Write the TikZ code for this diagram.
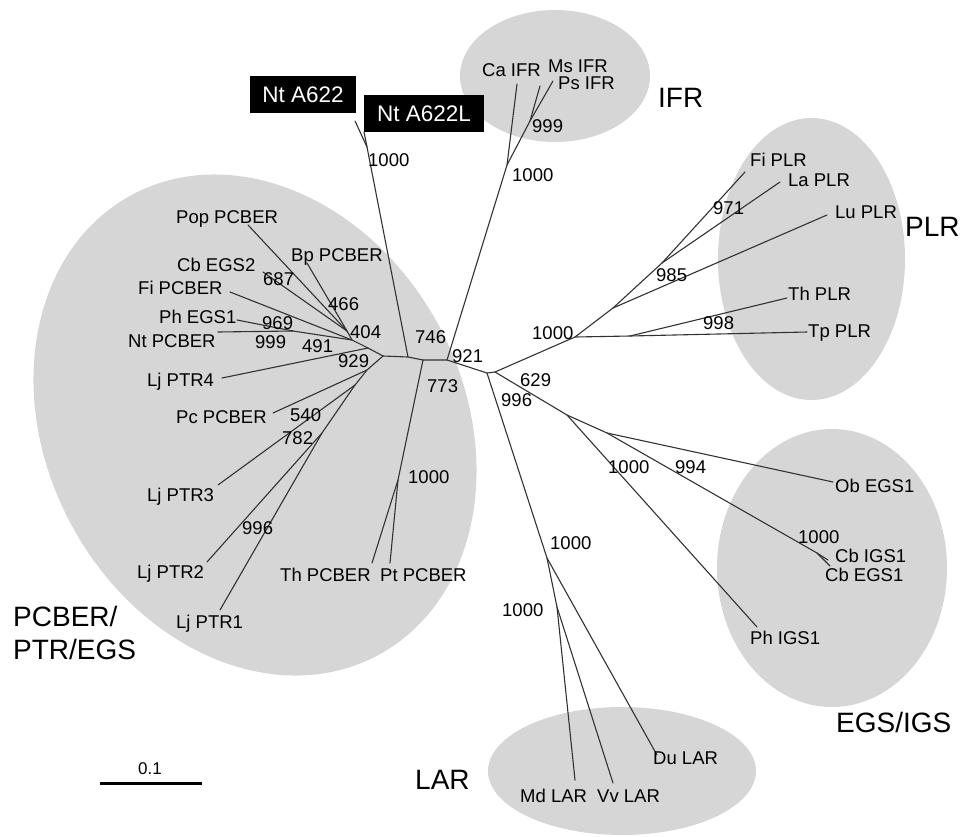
\documentclass[tikz,border=0pt]{standalone}
\usepackage{fontspec}
\setmainfont{Liberation Sans}
\definecolor{cladegray}{RGB}{214,214,214}
\definecolor{branchcol}{RGB}{50,50,50}
\tikzset{
  branch/.style={line width=1.1pt, draw=branchcol, line cap=round, line join=round},
  taxon/.style={font=\fontsize{18.5}{20}\selectfont, anchor=west, inner sep=0pt, text height=13.2pt, text depth=0pt},
  boot/.style={taxon},
  group/.style={font=\fontsize{28}{30}\selectfont, anchor=west, inner sep=0pt, text height=20pt, text depth=0pt},
  clade/.style={fill=cladegray, draw=none},
  tagbox/.style={fill=black, text=white, font=\fontsize{22.5}{24}\selectfont, inner xsep=0pt, inner ysep=0pt,
                 minimum height=37pt, text height=16pt, text depth=0pt, anchor=center},
  scalebar/.style={line width=3pt, draw=black}
}
\begin{document}
\begin{tikzpicture}[x=1pt, y=-1pt]
\useasboundingbox (0,0) rectangle (978,836);

% ---- clade ellipses ----
\coordinate (cPC) at (255,425);
\fill[clade, rotate around={-62:(cPC)}] (cPC) ellipse [x radius=261pt, y radius=209pt];
\fill[clade] (555,76) ellipse [x radius=95pt, y radius=66pt];
\fill[clade] (811.5,259) ellipse [x radius=93.5pt, y radius=141pt];
\fill[clade] (832,568) ellipse [x radius=115pt, y radius=139pt];
\fill[clade] (622,771) ellipse [x radius=134pt, y radius=64pt];

% ---- internal nodes ----
\coordinate (H) at (383,356);
\coordinate (U1) at (368,348);
\coordinate (U) at (352,340);
\coordinate (V) at (347,331);
\coordinate (W) at (293,331);
\coordinate (L1) at (367,370);
\coordinate (L2) at (355,385);
\coordinate (L3) at (322,433);
\coordinate (M1) at (408,357);
\coordinate (M2) at (423,360);
\coordinate (M3) at (447,360);
\coordinate (M4) at (487,373);
\coordinate (M5) at (495,372);
\coordinate (A1) at (367,147);
\coordinate (I1) at (507,165);
\coordinate (I2) at (530,121);
\coordinate (P1) at (575,337);
\coordinate (P2) at (630,336);
\coordinate (P3) at (613,308);
\coordinate (P4) at (662,263);
\coordinate (E1) at (567,415);
\coordinate (E2) at (607,433);
\coordinate (E3) at (817,553);
\coordinate (R1) at (547,558);
\coordinate (R2) at (557,607);
\coordinate (T1) at (398,480);

% ---- leaf ends ----
\coordinate (tA622) at (355,121);
\coordinate (tA622L) at (364,132);
\coordinate (tCa) at (517,84);
\coordinate (tMs) at (540,86);
\coordinate (tPs) at (553,81);
\coordinate (tTp) at (807,332);
\coordinate (tTh) at (787,298);
\coordinate (tLu) at (827,215);
\coordinate (tFiP) at (745,172);
\coordinate (tLa) at (780,182);
\coordinate (tPh) at (757,627);
\coordinate (tOb) at (833,482);
\coordinate (tCbI) at (828,560);
\coordinate (tCbE) at (830,566);
\coordinate (tDu) at (657,755);
\coordinate (tMd) at (575,780);
\coordinate (tVv) at (613,783);
\coordinate (tThP) at (372,563);
\coordinate (tPtP) at (390,563);
\coordinate (tPop) at (248,225);
\coordinate (tBp) at (307,263);
\coordinate (tCbE2) at (263,272);
\coordinate (tFi) at (230,292);
\coordinate (tPhE) at (237,320);
\coordinate (tNt) at (218,332);
\coordinate (tLj4) at (222,378);
\coordinate (tPc) at (273,413);
\coordinate (tLj3) at (218,485);
\coordinate (tLj2) at (207,562);
\coordinate (tLj1) at (220,610);

% ---- branches ----
\draw[branch] (H) -- (M1) -- (M2) -- (M3) -- (M4) -- (M5);
\draw[branch] (M1) -- (A1) -- (tA622);
\draw[branch] (A1) -- (tA622L);
\draw[branch] (M3) -- (I1) -- (tCa);
\draw[branch] (I1) -- (I2) -- (tMs);
\draw[branch] (I2) -- (tPs);
\draw[branch] (M5) -- (P1) -- (P2) -- (tTp);
\draw[branch] (P2) -- (tTh);
\draw[branch] (P1) -- (P3) -- (tLu);
\draw[branch] (P3) -- (P4) -- (tFiP);
\draw[branch] (P4) -- (tLa);
\draw[branch] (M5) -- (E1) -- (tPh);
\draw[branch] (E1) -- (E2) -- (tOb);
\draw[branch] (E2) -- (E3) -- (tCbI);
\draw[branch] (E3) -- (tCbE);
\draw[branch] (M4) -- (R1) -- (tDu);
\draw[branch] (R1) -- (R2) -- (tMd);
\draw[branch] (R2) -- (tVv);
\draw[branch] (M2) -- (T1) -- (tThP);
\draw[branch] (T1) -- (tPtP);
\draw[branch] (H) -- (U1) -- (U) -- (V) -- (tPop);
\draw[branch] (V) -- (tBp);
\draw[branch] (V) -- (tCbE2);
\draw[branch] (U) -- (tFi);
\draw[branch] (U) -- (W) -- (tNt);
\draw[branch] (W) -- (tPhE);
\draw[branch] (U1) -- (tLj4);
\draw[branch] (H) -- (L1) -- (tPc);
\draw[branch] (L1) -- (L2) -- (tLj3);
\draw[branch] (L2) -- (L3) -- (tLj2);
\draw[branch] (L3) -- (tLj1);

% ---- tagged sequences ----
\node[tagbox, minimum width=106pt] (bA622) at (303,94.5) {Nt A622};
\node[tagbox, minimum width=120pt] (bA622L) at (424,113.5) {Nt A622L};

% ---- taxon labels ----
\node[taxon] (nPop) at (176,217) {Pop PCBER};
\node[taxon] (nBp) at (291,255) {Bp PCBER};
\node[taxon] (nCbE2) at (177,265) {Cb EGS2};
\node[taxon] (nFi) at (138,288) {Fi PCBER};
\node[taxon] (nPhE) at (159,317) {Ph EGS1};
\node[taxon] (nNt) at (128,341) {Nt PCBER};
\node[taxon] (nLj4) at (147,380) {Lj PTR4};
\node[taxon] (nPc) at (176,417) {Pc PCBER};
\node[taxon] (nLj3) at (147,495) {Lj PTR3};
\node[taxon] (nLj2) at (137,572) {Lj PTR2};
\node[taxon] (nLj1) at (176,622) {Lj PTR1};
\node[taxon] (nThP) at (280,575) {Th PCBER};
\node[taxon] (nPtP) at (380,575) {Pt PCBER};
\node[taxon] (nCa) at (482,70) {Ca IFR};
\node[taxon] (nMs) at (548,66) {Ms IFR};
\node[taxon] (nPs) at (558,83) {Ps IFR};
\node[taxon] (nFiP) at (750,160) {Fi PLR};
\node[taxon] (nLa) at (788,180) {La PLR};
\node[taxon] (nLu) at (835,212) {Lu PLR};
\node[taxon] (nTh) at (788,294) {Th PLR};
\node[taxon] (nTp) at (808,331) {Tp PLR};
\node[taxon] (nOb) at (835,486) {Ob EGS1};
\node[taxon] (nCbI) at (835,556) {Cb IGS1};
\node[taxon] (nCbE) at (825,575) {Cb EGS1};
\node[taxon] (nPh) at (750,638) {Ph IGS1};
\node[taxon] (nMd) at (520,796) {Md LAR};
\node[taxon] (nVv) at (597,796) {Vv LAR};
\node[taxon] (nDu) at (653,758) {Du LAR};

% ---- bootstrap values ----
\node[boot] (b1) at (368,160) {1000};
\node[boot] (b2) at (512,175) {1000};
\node[boot] (b3) at (532,126) {999};
\node[boot] (b4) at (532,333) {1000};
\node[boot] (b5) at (656,275) {985};
\node[boot] (b6) at (713,208) {971};
\node[boot] (b7) at (703,323) {998};
\node[boot] (b8) at (520,380) {629};
\node[boot] (b9) at (501,400) {996};
\node[boot] (b10) at (608,467) {1000};
\node[boot] (b11) at (675,467) {994};
\node[boot] (b12) at (798,537) {1000};
\node[boot] (b13) at (550,543) {1000};
\node[boot] (b14) at (502,610) {1000};
\node[boot] (b15) at (415,337) {746};
\node[boot] (b16) at (452,356) {921};
\node[boot] (b17) at (427,386) {773};
\node[boot] (b18) at (338,361) {929};
\node[boot] (b19) at (350,332) {404};
\node[boot] (b20) at (328,304) {466};
\node[boot] (b21) at (263,279) {687};
\node[boot] (b22) at (262,323) {969};
\node[boot] (b23) at (255,342) {999};
\node[boot] (b24) at (302,346) {491};
\node[boot] (b25) at (290,415) {540};
\node[boot] (b26) at (282,438) {782};
\node[boot] (b27) at (242,528) {996};
\node[boot] (b28) at (408,477) {1000};

% ---- group labels ----
\node[group] (gPC1) at (13,616) {PCBER/};
\node[group] (gPC2) at (13,649) {PTR/EGS};
\node[group] (gIFR) at (658,97) {IFR};
\node[group] (gPLR) at (905,226) {PLR};
\node[group] (gEGS) at (836,722) {EGS/IGS};
\node[group] (gLAR) at (415,779) {LAR};

% ---- scale bar ----
\coordinate (sb1) at (100,783);
\coordinate (sb2) at (202,783);
\draw[scalebar] (sb1) -- (sb2);
\node[taxon, font=\fontsize{17}{18}\selectfont, text height=12pt, anchor=center] (sbl) at (150,768) {0.1};
\end{tikzpicture}
\end{document}
